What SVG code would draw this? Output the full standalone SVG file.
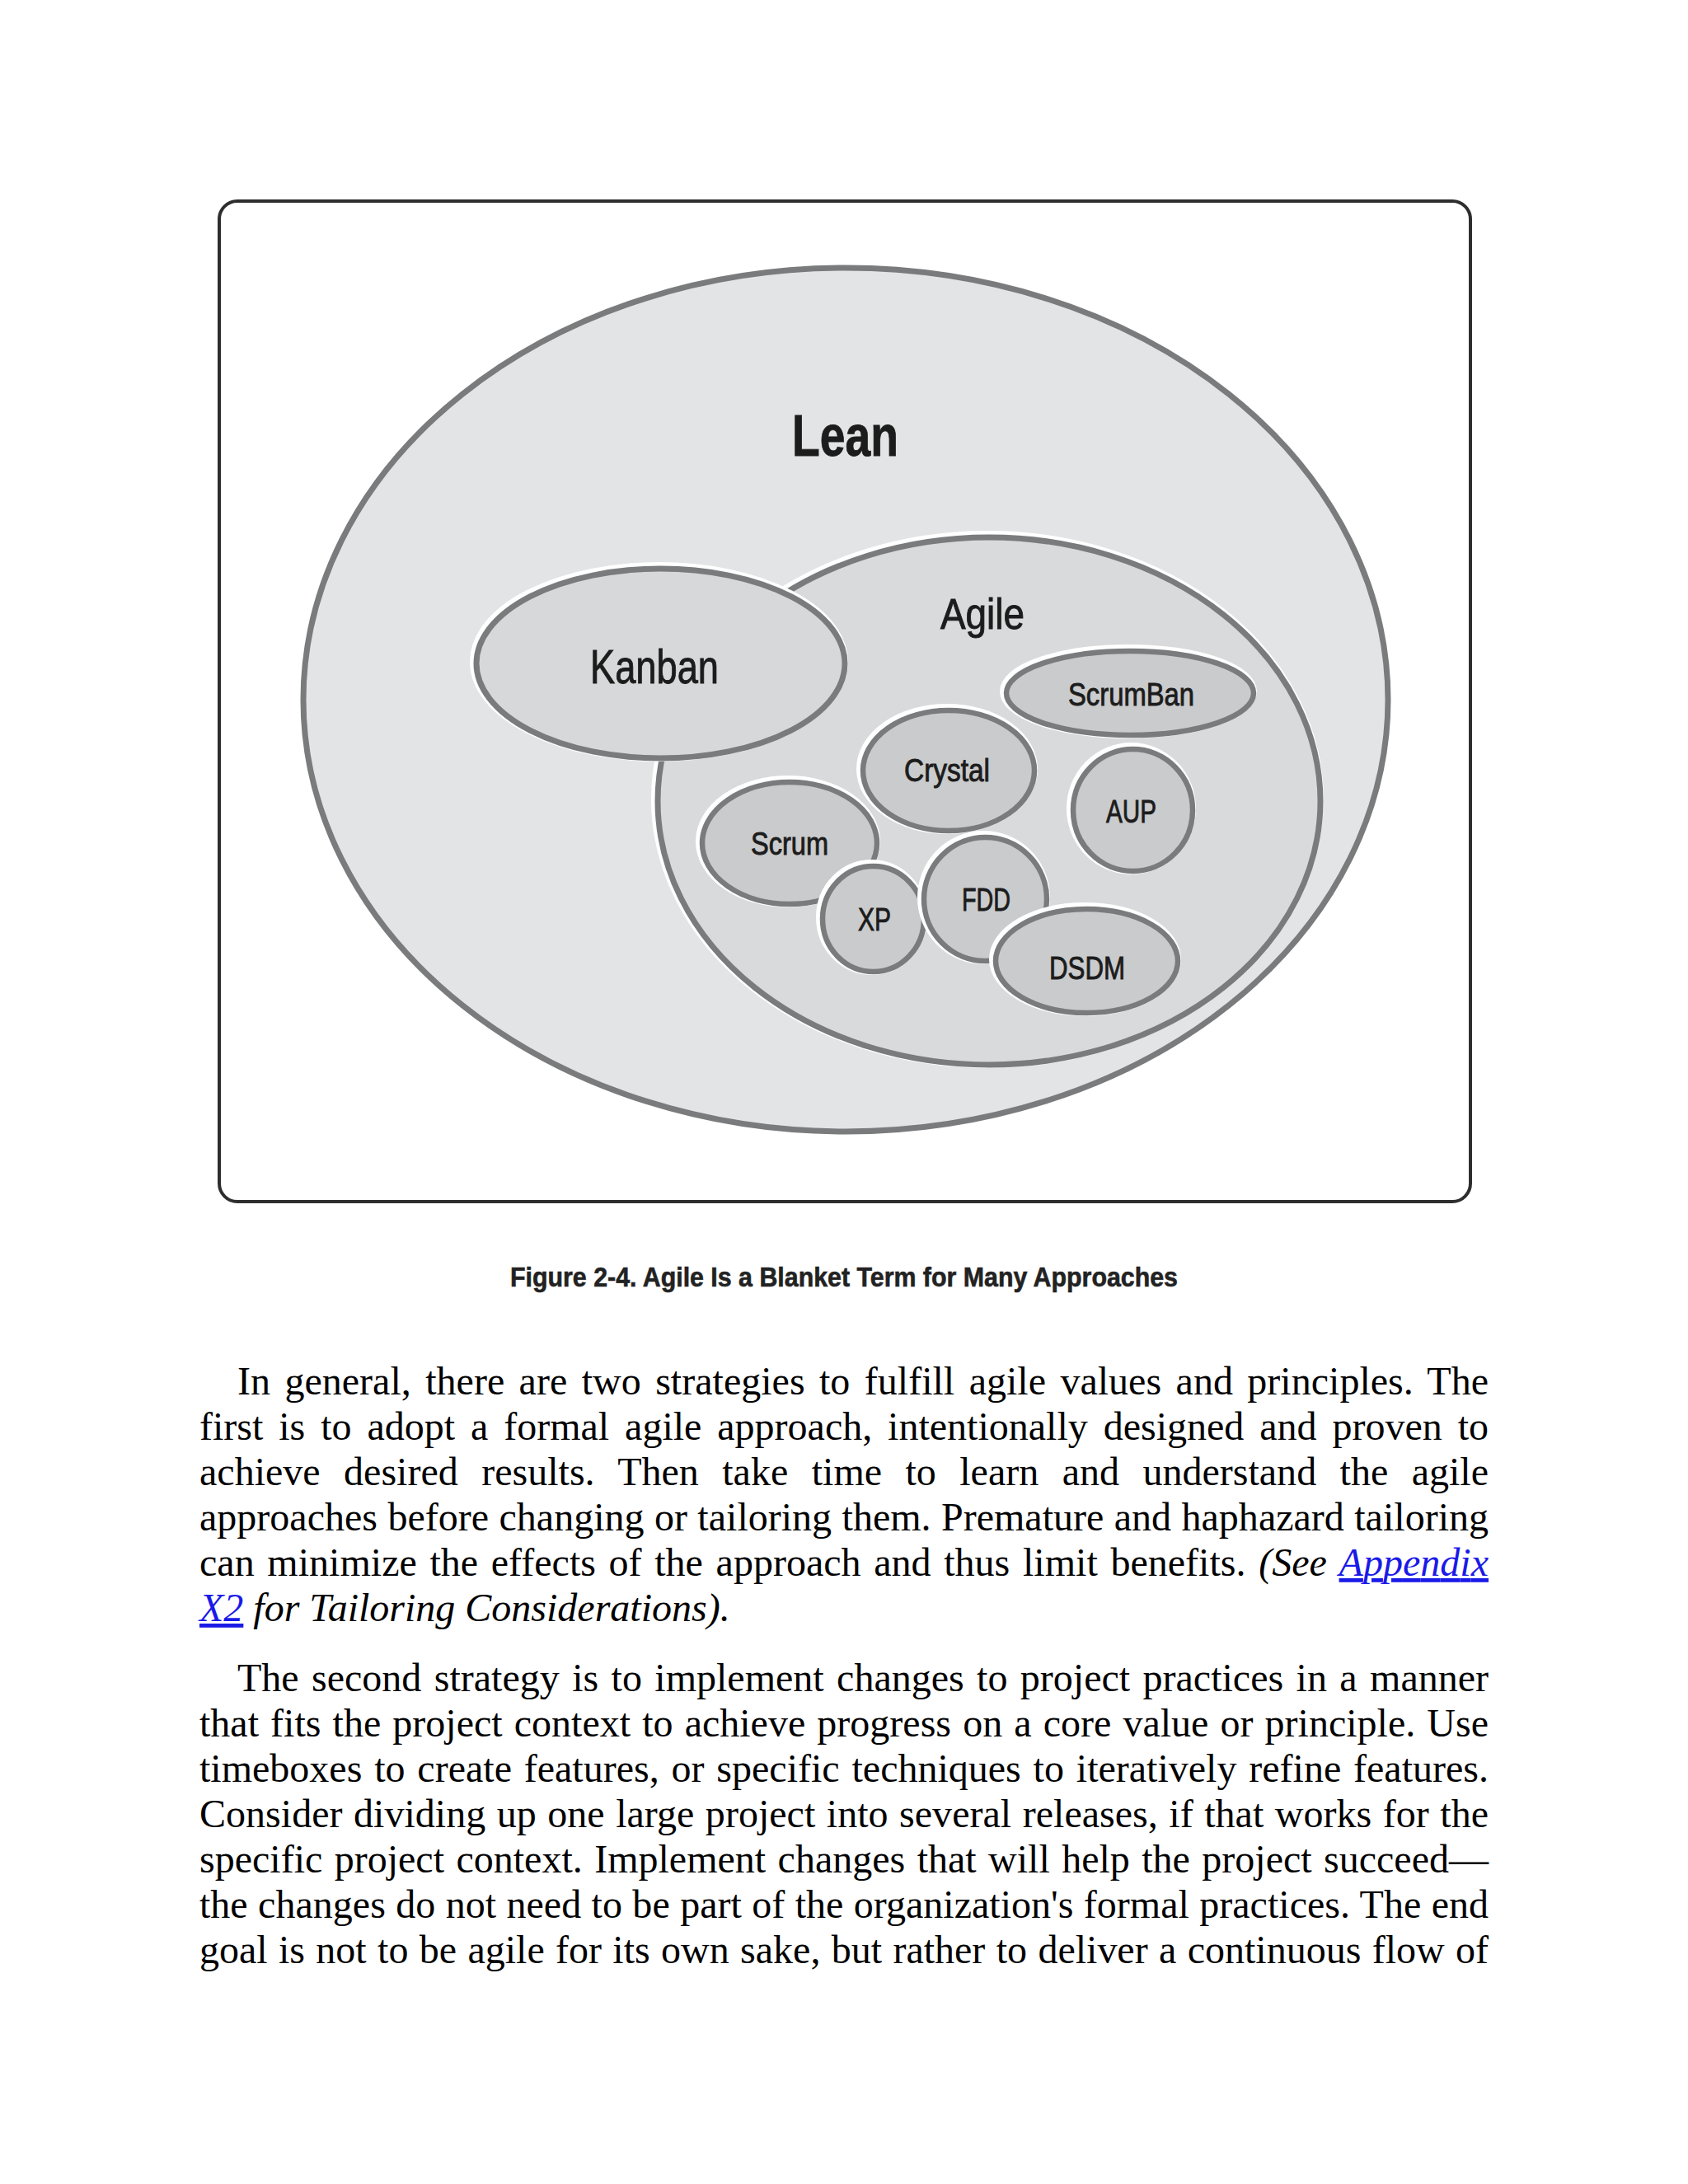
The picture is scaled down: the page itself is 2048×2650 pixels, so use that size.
<svg xmlns="http://www.w3.org/2000/svg" width="2048" height="2650" viewBox="0 0 2048 2650">
<style>
.halo{fill:none;stroke:#ffffff;stroke-width:12}
.big{stroke:#7a7b7c;stroke-width:7}
.small{fill:#cacbcc;stroke:#7a7b7c;stroke-width:6.5}
.lbl{font-family:"Liberation Sans Narrow","Liberation Sans",Arial,sans-serif;fill:#1c1c1c;stroke:#1c1c1c;stroke-width:0.9;text-anchor:start}
.body{font-family:"Liberation Serif","Times New Roman",serif;font-size:48px;fill:#000}
.it{font-style:italic}
.link{font-style:italic;fill:#1a1ae8;text-decoration:underline}
</style>
<rect width="2048" height="2650" fill="#ffffff"/>
<g id="frame">
<rect x="266" y="244" width="1518" height="1214" rx="22" ry="22" fill="#ffffff" stroke="#2e2e2e" stroke-width="4"/>
</g>
<g id="lean">
<ellipse class="halo" cx="1024" cy="847" rx="658" ry="524"/>
<ellipse class="big" cx="1026" cy="849" rx="658" ry="524" fill="#e3e4e5"/>
<text class="lbl" x="961" y="553" font-size="70" font-weight="bold" textLength="129" lengthAdjust="spacingAndGlyphs">Lean</text>
</g>
<g id="agile">
<ellipse class="halo" cx="1198" cy="970" rx="402" ry="320"/>
<ellipse class="big" cx="1200" cy="972" rx="402" ry="320" fill="#d9dadb"/>
<text class="lbl" x="1141" y="763" font-size="51" textLength="102" lengthAdjust="spacingAndGlyphs">Agile</text>
</g>
<g id="kanban">
<ellipse class="halo" cx="799.5" cy="803" rx="223.5" ry="115"/>
<ellipse class="big" cx="801.5" cy="805" rx="223.5" ry="115" fill="#d7d8d9"/>
<text class="lbl" x="716" y="829" font-size="57" textLength="156" lengthAdjust="spacingAndGlyphs">Kanban</text>
</g>
<g id="scrumban">
<ellipse class="halo" cx="1369" cy="839" rx="150" ry="51"/>
<ellipse class="small" cx="1371" cy="841" rx="150" ry="51"/>
<text class="lbl" x="1296" y="856" font-size="39" textLength="153" lengthAdjust="spacingAndGlyphs">ScrumBan</text>
</g>
<g id="crystal">
<ellipse class="halo" cx="1149" cy="933" rx="104" ry="73"/>
<ellipse class="small" cx="1151" cy="935" rx="104" ry="73"/>
<text class="lbl" x="1097" y="948" font-size="38" textLength="104" lengthAdjust="spacingAndGlyphs">Crystal</text>
</g>
<g id="aup">
<ellipse class="halo" cx="1372.5" cy="981" rx="72.5" ry="74"/>
<ellipse class="small" cx="1374.5" cy="983" rx="72.5" ry="74"/>
<text class="lbl" x="1342" y="998" font-size="39" textLength="61" lengthAdjust="spacingAndGlyphs">AUP</text>
</g>
<g id="scrum">
<ellipse class="halo" cx="956" cy="1021" rx="106" ry="74"/>
<ellipse class="small" cx="958" cy="1023" rx="106" ry="74"/>
<text class="lbl" x="911" y="1037" font-size="38" textLength="94" lengthAdjust="spacingAndGlyphs">Scrum</text>
</g>
<g id="xp">
<ellipse class="halo" cx="1057.5" cy="1113" rx="61.5" ry="64"/>
<ellipse class="small" cx="1059.5" cy="1115" rx="61.5" ry="64"/>
<text class="lbl" x="1041" y="1129" font-size="38" textLength="40" lengthAdjust="spacingAndGlyphs">XP</text>
</g>
<g id="fdd">
<ellipse class="halo" cx="1193.5" cy="1089" rx="74.5" ry="75"/>
<ellipse class="small" cx="1195.5" cy="1091" rx="74.5" ry="75"/>
<text class="lbl" x="1167" y="1105" font-size="38" textLength="59" lengthAdjust="spacingAndGlyphs">FDD</text>
</g>
<g id="dsdm">
<ellipse class="halo" cx="1316.5" cy="1164" rx="110.5" ry="63"/>
<ellipse class="small" cx="1318.5" cy="1166" rx="110.5" ry="63"/>
<text class="lbl" x="1273" y="1188" font-size="38" textLength="92" lengthAdjust="spacingAndGlyphs">DSDM</text>
</g>
<g id="connectors"></g>
<g id="caption">
<text class="lbl" x="619" y="1561" font-size="33" font-weight="bold" style="fill:#222;stroke:#222;stroke-width:0.6" textLength="810" lengthAdjust="spacingAndGlyphs">Figure 2-4. Agile Is a Blanket Term for Many Approaches</text>
</g>
<g id="paragraph1" class="body">
<text x="288" y="1692" word-spacing="5.4" textLength="1518" lengthAdjust="spacing">In general, there are two strategies to fulfill agile values and principles. The</text>
<text x="242" y="1747" word-spacing="6.9" textLength="1564" lengthAdjust="spacing">first is to adopt a formal agile approach, intentionally designed and proven to</text>
<text x="242" y="1802" word-spacing="16.4" textLength="1564" lengthAdjust="spacing">achieve desired results. Then take time to learn and understand the agile</text>
<text x="242" y="1857" word-spacing="0.4" textLength="1564" lengthAdjust="spacing">approaches before changing or tailoring them. Premature and haphazard tailoring</text>
<text x="242" y="1912" word-spacing="3.6" textLength="1564" lengthAdjust="spacing">can minimize the effects of the approach and thus limit benefits. <tspan class="it">(See </tspan><tspan class="link">Appendix</tspan></text>
<text x="242" y="1967"><tspan class="link">X2</tspan><tspan class="it"> for Tailoring Considerations).</tspan></text>
</g>
<g id="paragraph2" class="body">
<text x="288" y="2052" word-spacing="3.4" textLength="1518" lengthAdjust="spacing">The second strategy is to implement changes to project practices in a manner</text>
<text x="242" y="2107" word-spacing="2.1" textLength="1564" lengthAdjust="spacing">that fits the project context to achieve progress on a core value or principle. Use</text>
<text x="242" y="2162" word-spacing="2.8" textLength="1564" lengthAdjust="spacing">timeboxes to create features, or specific techniques to iteratively refine features.</text>
<text x="242" y="2217" word-spacing="1.5" textLength="1564" lengthAdjust="spacing">Consider dividing up one large project into several releases, if that works for the</text>
<text x="242" y="2272" word-spacing="2.4" textLength="1564" lengthAdjust="spacing">specific project context. Implement changes that will help the project succeed—</text>
<text x="242" y="2327" word-spacing="0.4" textLength="1564" lengthAdjust="spacing">the changes do not need to be part of the organization's formal practices. The end</text>
<text x="242" y="2382" word-spacing="1.35" textLength="1564" lengthAdjust="spacing">goal is not to be agile for its own sake, but rather to deliver a continuous flow of</text>
</g>
</svg>
